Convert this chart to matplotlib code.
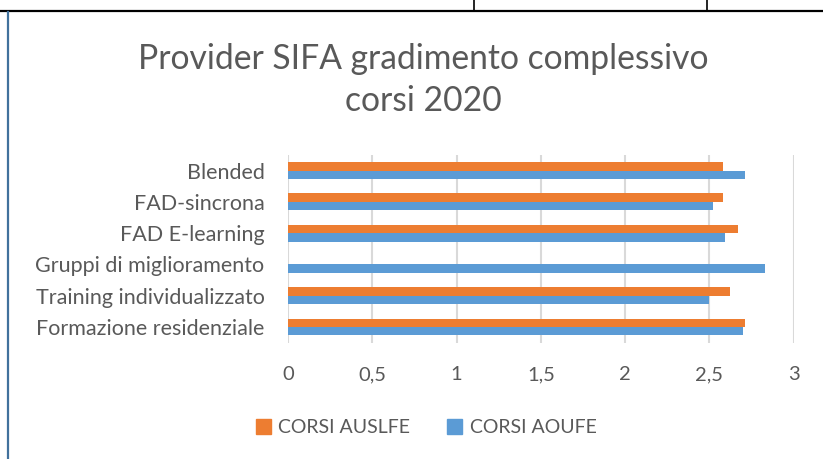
import numpy as np
import matplotlib.pyplot as plt
from matplotlib.patches import Patch
from matplotlib.lines import Line2D

categories = ['Formazione residenziale', 'Training individualizzato', 'Gruppi di miglioramento',
              'FAD E-learning', 'FAD-sincrona', 'Blended']
auslfe = [2.71, 2.62, 0.0, 2.67, 2.58, 2.58]
aoufe = [2.70, 2.50, 2.83, 2.59, 2.52, 2.71]
xticks = [0, 0.5, 1, 1.5, 2, 2.5, 3]
xtick_labels = ['0', '0,5', '1', '1,5', '2', '2,5', '3']

orange = '#ED7D31'
blue = '#5B9BD5'
grey = '#595959'
plt.rcParams['font.family'] = ['Lato', 'DejaVu Sans']

fig = plt.figure(figsize=(8.23, 4.59), dpi=100)
ax = fig.add_axes([0.35, 0.2534, 0.9644 - 0.35, 0.6623 - 0.2534])

y = np.arange(len(categories))
h = 0.27
ax.barh(y + h / 2, auslfe, height=h, color=orange, label='CORSI AUSLFE', zorder=3)
ax.barh(y - h / 2, aoufe, height=h, color=blue, label='CORSI AOUFE', zorder=3)

ax.set_xlim(0, 3)
ax.set_ylim(-0.5, len(categories) - 0.5)
ax.set_xticks(xticks)
ax.set_xticklabels(xtick_labels)
ax.set_yticks(y)
ax.set_yticklabels(categories)
ax.tick_params(axis='both', length=0, labelcolor=grey)
ax.tick_params(axis='x', pad=17, labelsize=14.5)
ax.tick_params(axis='y', pad=17, labelsize=15.5)
ax.grid(axis='x', color='#D9D9D9', linewidth=1.5, zorder=0)
for s in ax.spines.values():
    s.set_visible(False)

fig.text(0.514, 0.826, 'Provider SIFA gradimento complessivo\ncorsi 2020', ha='center', va='center',
         fontsize=24.2, color=grey, linespacing=1.36)

handles = [Patch(color=orange), Patch(color=blue)]
fig.legend(handles, ['CORSI AUSLFE', 'CORSI AOUFE'], loc='center', bbox_to_anchor=(0.518, 0.068),
           ncol=2, frameon=False, fontsize=14, labelcolor=grey, handlelength=0.75, handleheight=0.75,
           handletextpad=0.4, columnspacing=1.9)

# surrounding document table borders
fig.add_artist(Line2D([0, 1], [1 - 11 / 459] * 2, color='black', linewidth=1.6))
fig.add_artist(Line2D([474 / 823] * 2, [1 - 11 / 459, 1], color='black', linewidth=1.2))
fig.add_artist(Line2D([707 / 823] * 2, [1 - 11 / 459, 1], color='black', linewidth=1.2))
fig.add_artist(Line2D([8 / 823] * 2, [0, 1 - 12 / 459], color='#41719C', linewidth=1.6))

fig.savefig('out.png', dpi=100)
